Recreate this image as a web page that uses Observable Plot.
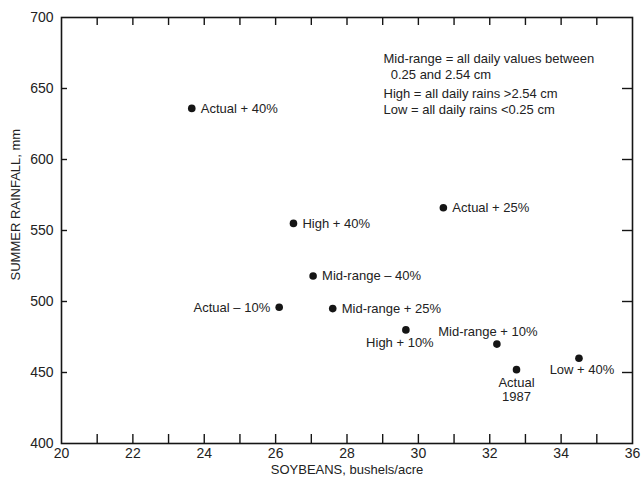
<!DOCTYPE html>
<html>
<head>
<meta charset="utf-8">
<script src="https://cdn.jsdelivr.net/npm/d3@7"></script>
<script src="https://cdn.jsdelivr.net/npm/@observablehq/plot@0.6"></script>
<style>
  html, body { margin: 0; padding: 0; background: #fff; }
  #chart { width: 642px; height: 487px; }
</style>
</head>
<body>
<div id="chart"></div>
<script>
// ---- data ----
const scenarios = ["Actual + 40%", "High + 40%", "Actual + 25%", "Mid-range – 40%", "Actual – 10%",
                   "Mid-range + 25%", "High + 10%", "Mid-range + 10%", "Actual\n1987", "Low + 40%"];
const soybeans = [23.65, 26.5, 30.7, 27.05, 26.1, 27.6, 29.65, 32.2, 32.75, 34.5];   // bushels/acre
const rainfall = [636, 555, 566, 518, 496, 495, 480, 470, 452, 460];                  // mm
const xTickValues = [21, 22, 23, 24, 25, 26, 27, 28, 29, 30, 31, 32, 33, 34, 35];
const xTickLabels = [20, 22, 24, 26, 28, 30, 32, 34, 36];
const yTickValues = [450, 500, 550, 600, 650];
const yTickLabels = [400, 450, 500, 550, 600, 650, 700];
const noteLines1 = ["Mid-range = all daily values between", "  0.25 and 2.54 cm"];
const noteLines2 = ["High = all daily rains >2.54 cm", "Low = all daily rains <0.25 cm"];

const points = scenarios.map((name, i) => ({name, soy: soybeans[i], rain: rainfall[i]}));

// ---- layout ----
const W = 642, H = 487;
const mL = 61, mR = 10, mT = 17, mB = 44;
const innerW = W - mL - mR, innerH = H - mT - mB;
const ink = "#151515";
const font = "'Liberation Sans', Arial, Helvetica, sans-serif";

// label placement per point (presentation only)
const place = {
  "Actual + 40%":    {textAnchor: "start",  dx: 9,  dy: 0},
  "High + 40%":      {textAnchor: "start",  dx: 9,  dy: 0},
  "Actual + 25%":    {textAnchor: "start",  dx: 9,  dy: 0},
  "Mid-range – 40%": {textAnchor: "start",  dx: 9,  dy: 0},
  "Mid-range + 25%": {textAnchor: "start",  dx: 9,  dy: 0},
  "Actual – 10%":    {textAnchor: "end",    dx: -9, dy: 0},
  "High + 10%":      {textAnchor: "middle", dx: -6, dy: 13},
  "Mid-range + 10%": {textAnchor: "middle", dx: -9, dy: -13},
  "Actual\n1987":    {textAnchor: "middle", dx: 0,  dy: 20},
  "Low + 40%":       {textAnchor: "middle", dx: 3,  dy: 11}
};

const labelMarks = points.map(p => Plot.text(points.filter(d => d.name === p.name), {
  x: "soy", y: "rain", text: "name",
  textAnchor: place[p.name].textAnchor, dx: place[p.name].dx, dy: place[p.name].dy,
  lineHeight: 1.08, fontSize: 13, fill: "#222"
}));

const chart = Plot.plot({
  width: W, height: H,
  marginLeft: mL, marginRight: mR, marginTop: mT, marginBottom: mB,
  style: {fontFamily: font, background: "#fff", color: "#222", overflow: "visible"},
  x: {domain: [20, 36]},
  y: {domain: [400, 700]},
  marks: [
    // inward tick marks on all four sides
    Plot.tickX(xTickValues, {x: d => d, insetTop: innerH - 9, stroke: ink, strokeWidth: 1.4}),
    Plot.tickX(xTickValues, {x: d => d, insetBottom: innerH - 8, stroke: ink, strokeWidth: 1.4}),
    Plot.tickY(yTickValues, {y: d => d, insetRight: innerW - 6, stroke: ink, strokeWidth: 1.4}),
    Plot.tickY(yTickValues, {y: d => d, insetLeft: innerW - 10, stroke: ink, strokeWidth: 1.4}),
    Plot.frame({stroke: ink, strokeWidth: 1.6}),
    // tick labels
    Plot.axisX({ticks: xTickLabels, tickSize: 0, tickPadding: 5, fontSize: 14, label: null, tickFormat: d => String(d)}),
    Plot.axisY({ticks: yTickLabels, tickSize: 0, tickPadding: 8, fontSize: 14, label: null, tickFormat: d => String(d)}),
    // axis titles
    Plot.text(["SOYBEANS, bushels/acre"], {text: d => d, frameAnchor: "bottom", dy: 30, fontSize: 13, fill: "#222"}),
    Plot.text(["SUMMER RAINFALL, mm"], {text: d => d, frameAnchor: "left", dx: -46, dy: 50, rotate: -90, fontSize: 13, fill: "#222"}),
    // definitions note
    Plot.text([noteLines1.join("\n")], {text: d => d, frameAnchor: "top-left", dx: 322, dy: 34, textAnchor: "start", lineAnchor: "top", lineHeight: 1.25, fontSize: 13, fill: "#222"}),
    Plot.text([noteLines2.join("\n")], {text: d => d, frameAnchor: "top-left", dx: 322, dy: 69, textAnchor: "start", lineAnchor: "top", lineHeight: 1.25, fontSize: 13, fill: "#222"}),
    // points
    Plot.dot(points, {x: "soy", y: "rain", r: 3.8, fill: ink, stroke: "none"}),
    ...labelMarks
  ]
});

document.getElementById("chart").appendChild(chart);
</script>
</body>
</html>
